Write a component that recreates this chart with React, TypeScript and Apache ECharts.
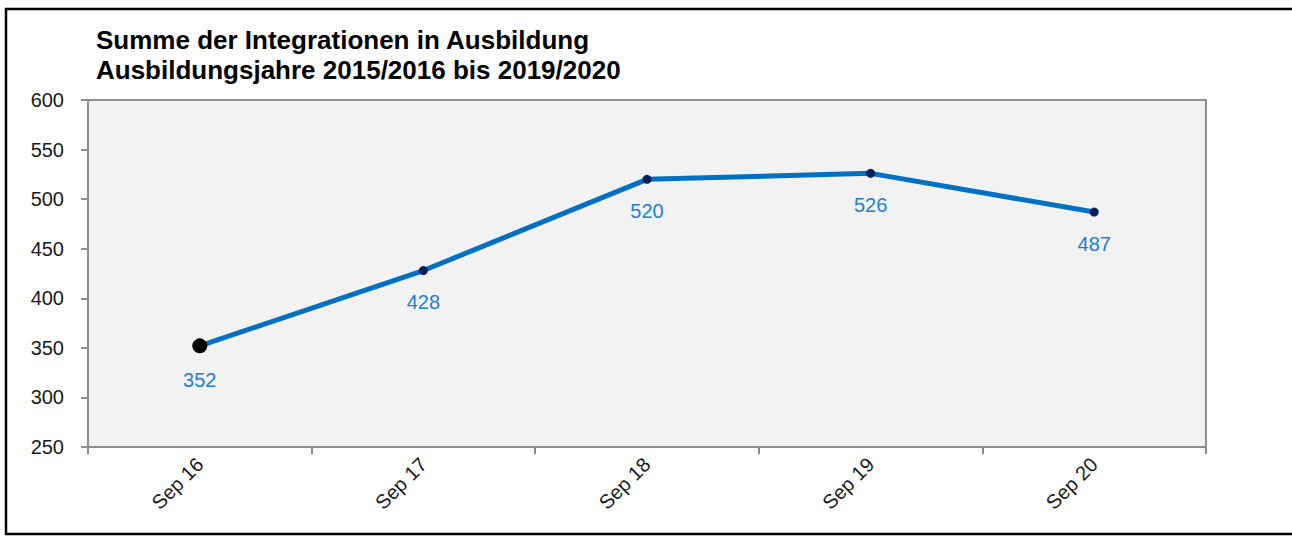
import React, { useEffect, useRef } from "react";
import * as echarts from "echarts";

const titleLines = ["Summe der Integrationen in Ausbildung", "Ausbildungsjahre 2015/2016 bis 2019/2020"];
const categories = ["Sep 16", "Sep 17", "Sep 18", "Sep 19", "Sep 20"];
const values = [352, 428, 520, 526, 487];
const yMin = 250;
const yMax = 600;
const yInterval = 50;

export default function App() {
  const ref = useRef<HTMLDivElement>(null);
  useEffect(() => {
    document.body.style.margin = "0";
    const chart = echarts.init(ref.current!, null, { renderer: "svg" });
    const font = "Arial, 'Liberation Sans', sans-serif";
    chart.setOption({
      animation: false,
      backgroundColor: "#ffffff",
      title: {
        text: titleLines.join("\n"),
        left: 91,
        top: 20,
        textStyle: { fontFamily: font, fontSize: 26, fontWeight: "bold", color: "#000000", lineHeight: 30 },
      },
      grid: {
        left: 88,
        right: 86,
        top: 100,
        bottom: 89,
        show: true,
        backgroundColor: "#F2F2F2",
        borderColor: "#6E6E6E",
        borderWidth: 1.5,
      },
      xAxis: {
        type: "category",
        data: categories,
        boundaryGap: true,
        axisLine: { show: true, lineStyle: { color: "#8C8C8C", width: 2 } },
        axisTick: { show: true, alignWithLabel: false, length: 7, lineStyle: { color: "#8C8C8C", width: 2 } },
        axisLabel: { rotate: 45, margin: 14, fontFamily: font, fontSize: 20, color: "#1a1a1a" },
        splitLine: { show: false },
      },
      yAxis: {
        type: "value",
        min: yMin,
        max: yMax,
        interval: yInterval,
        axisLine: { show: true, lineStyle: { color: "#8C8C8C", width: 2 } },
        axisTick: { show: true, length: 7, lineStyle: { color: "#8C8C8C", width: 2 } },
        axisLabel: { margin: 24, fontFamily: font, fontSize: 20, color: "#1a1a1a" },
        splitLine: { show: false },
      },
      series: [
        {
          type: "line",
          data: values.map((v, i) =>
            i === 0
              ? { value: v, symbolSize: 15, itemStyle: { color: "#000000" } }
              : { value: v }
          ),
          symbol: "circle",
          symbolSize: 9,
          itemStyle: { color: "#0B1F5E" },
          lineStyle: { color: "#0070C0", width: 5 },
          label: {
            show: true,
            position: "bottom",
            distance: 17,
            fontFamily: font,
            fontSize: 20,
            color: "#2080D0",
          },
          z: 3,
        },
      ],
      graphic: [
        {
          type: "polyline",
          shape: { points: [[1300, 9], [6, 9], [6, 534], [1300, 534]] },
          style: { stroke: "#000000", lineWidth: 2.5, fill: "none" },
          silent: true,
        },
      ],
    });
    return () => chart.dispose();
  }, []);
  return <div ref={ref} style={{ width: 1292, height: 536 }} />;
}
